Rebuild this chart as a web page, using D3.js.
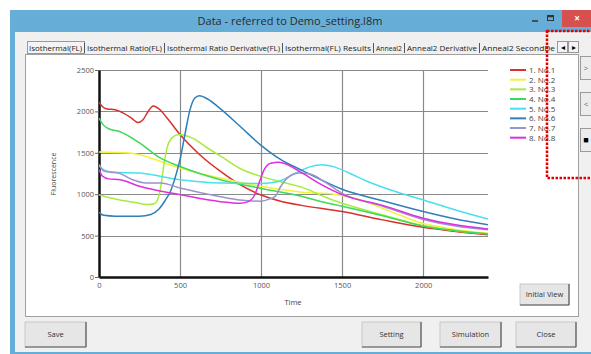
<!DOCTYPE html>
<html><head><meta charset="utf-8">
<script src="https://cdn.jsdelivr.net/npm/d3@7"></script>
<style>
body{margin:0;background:#fff}
svg{display:block}
text{font-family:"Open Sans","Noto Sans",sans-serif}
</style>
</head><body>
<svg id="c" width="591" height="354"></svg>
<script>
// ---------- data ----------
const titleText = "Data - referred to Demo_setting.l8m";
const tabLabels = ["Isothermal(FL)","Isothermal Ratio(FL)","Isothermal Ratio Derivative(FL)","Isothermal(FL) Results","Anneal2","Anneal2 Derivative","Anneal2 SecondDe"];
const xTicks = [0,500,1000,1500,2000];
const yTicks = [0,500,1000,1500,2000,2500];
const seriesNames = ["1. No.1","2. No.2","3. No.3","4. No.4","5. No.5","6. No.6","7. No.7","8. No.8"];
const seriesColors = ["#d8302c","#f2f23c","#a6ec3c","#3ed85a","#48e0ec","#2f7fb8","#9a94cc","#de2ede"];
const s1 = [[0,2110],[20,2060],[50,2030],[100,2020],[150,1980],[200,1920],[240,1865],[270,1895],[300,1990],[335,2065],[370,2030],[420,1920],[500,1720],[620,1480],[750,1275],[870,1115],[1000,990],[1120,915],[1250,865],[1500,790],[1750,690],[2000,600],[2200,550],[2400,510]];
const s2 = [[0,1510],[100,1505],[200,1495],[300,1450],[380,1395],[500,1315],[750,1195],[1000,1095],[1250,1025],[1450,1000],[1600,940],[1800,790],[2000,645],[2200,575],[2400,525]];
const s3 = [[0,995],[60,960],[130,930],[220,900],[300,875],[340,885],[365,950],[380,1080],[400,1350],[420,1560],[450,1680],[490,1720],[520,1715],[580,1675],[660,1570],[750,1460],[870,1310],[1000,1215],[1120,1150],[1250,1085],[1400,960],[1500,890],[1750,750],[2000,620],[2200,560],[2400,525]];
const s4 = [[0,1920],[25,1840],[60,1790],[130,1755],[250,1620],[380,1435],[500,1335],[750,1175],[1000,1070],[1250,975],[1350,920],[1500,855],[1750,740],[2000,615],[2200,560],[2400,520]];
const s5 = [[0,1340],[40,1285],[100,1265],[250,1255],[500,1175],[750,1135],[1000,1130],[1100,1150],[1200,1240],[1300,1330],[1380,1355],[1450,1330],[1550,1250],[1650,1160],[1800,1050],[2000,930],[2200,810],[2400,700]];
const s6 = [[0,780],[30,745],[100,735],[250,735],[320,755],[370,820],[410,930],[440,1030],[470,1200],[500,1420],[530,1720],[560,2010],[590,2160],[620,2190],[670,2150],[750,2030],[870,1820],[1000,1590],[1120,1420],[1250,1290],[1500,1060],[1750,920],[2000,790],[2200,700],[2400,630]];
const s7 = [[0,1360],[30,1280],[70,1265],[120,1255],[200,1180],[290,1135],[380,1135],[500,1075],[750,970],[870,930],[1000,915],[1050,940],[1090,980],[1120,1090],[1170,1210],[1230,1255],[1300,1245],[1400,1140],[1500,1010],[1750,855],[2000,695],[2200,615],[2400,570]];
const s8 = [[0,1300],[20,1220],[60,1185],[130,1175],[250,1095],[500,995],[750,910],[870,890],[920,910],[960,990],[990,1150],[1020,1300],[1060,1375],[1110,1385],[1250,1260],[1350,1140],[1500,995],[1750,865],[2000,710],[2200,630],[2400,580]];
const allSeries = [s1,s2,s3,s4,s5,s6,s7,s8];

// ---------- drawing ----------
const svg = d3.select("#c");
const W = 591, H = 354;
svg.append("rect").attr("width",W).attr("height",H).attr("fill","#fff");

// window frame
svg.append("rect").attr("x",10).attr("y",10).attr("width",600).attr("height",360).attr("fill","#66aed8");
svg.append("rect").attr("x",15).attr("y",32).attr("width",600).attr("height",320).attr("fill","#f0f0f0");
svg.append("text").attr("x",290).attr("y",25).attr("text-anchor","middle").attr("font-size",11).attr("fill","#2a2a2a").text(titleText);
// title buttons
svg.append("rect").attr("x",562).attr("y",10).attr("width",40).attr("height",17).attr("fill","#d65050");
svg.append("text").attr("x",577).attr("y",22).attr("text-anchor","middle").attr("font-size",10).attr("font-weight","bold").attr("fill","#fff").text("×");
svg.append("line").attr("x1",532).attr("x2",538).attr("y1",21).attr("y2",21).attr("stroke","#333").attr("stroke-width",1.5);
svg.append("rect").attr("x",547.5).attr("y",15.5).attr("width",6).attr("height",5).attr("fill","none").attr("stroke","#333").attr("stroke-width",1);
svg.append("line").attr("x1",547.5).attr("x2",553.5).attr("y1",16.5).attr("y2",16.5).attr("stroke","#333").attr("stroke-width",1.5);

// tab panel
svg.append("rect").attr("x",25.5).attr("y",54.5).attr("width",553).attr("height",262).attr("fill","#fff").attr("stroke","#a0a0a0");

// tabs
const tabPos = [[29,82],[87,162],[167,280],[285,371],[376,402],[407,477],[482,555]];
svg.append("rect").attr("x",27.5).attr("y",41.5).attr("width",57).attr("height",12).attr("fill","#f4f4f4").attr("stroke","#999");
tabLabels.forEach((t,i)=>{
  const [a,b] = tabPos[i];
  svg.append("text").attr("x",a).attr("y",51).attr("font-size",7).attr("fill","#222")
    .attr("textLength",b-a).attr("lengthAdjust","spacingAndGlyphs").text(t);
  if(i>0){
    svg.append("line").attr("x1",a-2.5).attr("x2",a-2.5).attr("y1",43).attr("y2",53).attr("stroke","#555");
  }
});
// tab scroll arrows
[[557,"◂"],[568,"▸"]].forEach(([x,g])=>{
  svg.append("rect").attr("x",x+0.5).attr("y",41.5).attr("width",10).attr("height",11).attr("fill","#f4f4f4").attr("stroke","#999");
  svg.append("text").attr("x",x+5.5).attr("y",50).attr("text-anchor","middle").attr("font-size",8).attr("fill","#000").text(g);
});

// side buttons
[[68,">"],[104,"<"],[140,"■"]].forEach(([cy,g])=>{
  svg.append("rect").attr("x",580.5).attr("y",cy-11.5).attr("width",14).attr("height",23).attr("fill","#ececec").attr("stroke","#9a9a9a");
  svg.append("text").attr("x",586).attr("y",cy+3).attr("text-anchor","middle").attr("font-size",g==="■"?9:8).attr("fill",g==="■"?"#000":"#666").text(g);
});

// ---------- chart ----------
const x = d3.scaleLinear().domain([0,2400]).range([99,488]);
const y = d3.scaleLinear().domain([0,2500]).range([277,70]);

const grid = svg.append("g");
yTicks.filter(v=>v>0).forEach(v=>{
  grid.append("line").attr("x1",x(0)).attr("x2",x(2400)).attr("y1",Math.round(y(v))+0.5).attr("y2",Math.round(y(v))+0.5).attr("stroke","#8a8a8a").attr("stroke-width",1.2);
});
xTicks.filter(v=>v>0).forEach(v=>{
  grid.append("line").attr("x1",Math.round(x(v))+0.5).attr("x2",Math.round(x(v))+0.5).attr("y1",y(2500)).attr("y2",y(0)).attr("stroke","#8a8a8a").attr("stroke-width",1.2);
});

const yAxis = svg.append("g").attr("transform",`translate(${x(0)},0)`)
  .call(d3.axisLeft(y).tickValues(yTicks).tickSize(4).tickSizeOuter(0).tickFormat(d3.format("d")));
yAxis.select(".domain").attr("stroke","#111").attr("stroke-width",2.5);
yAxis.selectAll(".tick line").attr("stroke","#666");
yAxis.selectAll(".tick text").attr("font-size",7.5).attr("fill","#555").attr("x",-5);

const xAxis = svg.append("g").attr("transform",`translate(0,${y(0)})`)
  .call(d3.axisBottom(x).tickValues(xTicks).tickSize(0).tickSizeOuter(0).tickPadding(6).tickFormat(d3.format("d")));
xAxis.select(".domain").attr("stroke","#111").attr("stroke-width",2.5);
xAxis.selectAll(".tick text").attr("font-size",7.5).attr("fill","#555");

svg.append("text").attr("transform","translate(56,174) rotate(-90)").attr("text-anchor","middle").attr("font-size",7).attr("fill","#444").text("Fluorescence");
svg.append("text").attr("x",293).attr("y",305).attr("text-anchor","middle").attr("font-size",7.5).attr("fill","#444").text("Time");

const line = d3.line().x(d=>x(d[0])).y(d=>y(d[1])).curve(d3.curveMonotoneX);
svg.append("clipPath").attr("id","pc").append("rect").attr("x",x(0)).attr("y",y(2500)-5).attr("width",x(2400)-x(0)).attr("height",y(0)-y(2500)+5);
const lg = svg.append("g").attr("clip-path","url(#pc)");
allSeries.forEach((s,i)=>{
  lg.append("path").datum(s).attr("d",line).attr("fill","none").attr("stroke",seriesColors[i]).attr("stroke-width",1.5).attr("stroke-linejoin","round");
});

// legend
seriesNames.forEach((n,i)=>{
  const ly = 70 + i*9.67;
  svg.append("line").attr("x1",510).attr("x2",526).attr("y1",ly).attr("y2",ly).attr("stroke",seriesColors[i]).attr("stroke-width",2);
  svg.append("text").attr("x",529).attr("y",ly+3).attr("font-size",8).attr("fill","#444").text(n);
});

// buttons
function button(x0,x1,y0,y1,label){
  svg.append("rect").attr("x",x0).attr("y",y0).attr("width",x1-x0).attr("height",y1-y0).attr("fill","#e6e6e6").attr("stroke","#c8c8c8");
  svg.append("line").attr("x1",x1).attr("x2",x1).attr("y1",y0).attr("y2",y1).attr("stroke","#555").attr("stroke-width",1.2);
  svg.append("line").attr("x1",x0).attr("x2",x1).attr("y1",y1).attr("y2",y1).attr("stroke","#555").attr("stroke-width",1.2);
  svg.append("text").attr("x",(x0+x1)/2).attr("y",(y0+y1)/2+2.5).attr("text-anchor","middle").attr("font-size",7.5).attr("fill","#333").text(label);
}
button(520,569,284,305,"Initial View");
button(25,86,322,347,"Save");
button(362,421,322,347,"Setting");
button(440,501,322,347,"Simulation");
button(516,576,322,347,"Close");

// red dotted annotation rectangle
svg.append("rect").attr("x",547).attr("y",31).attr("width",60).attr("height",147).attr("fill","none").attr("stroke","#e30000").attr("stroke-width",2.5).attr("stroke-dasharray","2.5,1.5");
</script>
</body></html>
